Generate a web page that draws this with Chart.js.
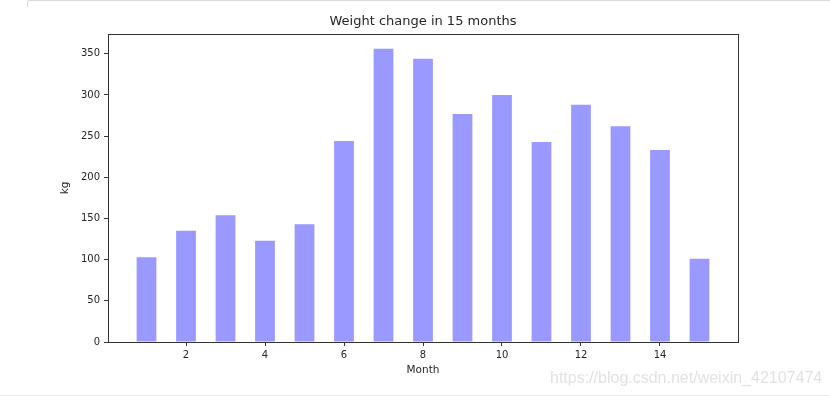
<!DOCTYPE html>
<html>
<head>
<meta charset="utf-8">
<title>Weight change in 15 months</title>
<script src="https://cdn.jsdelivr.net/npm/chart.js@4.4.1/dist/chart.umd.min.js"></script>
<style>
    html, body { margin: 0; padding: 0; background: #fff; overflow: hidden; }
    .page { position: relative; width: 830px; height: 397px; }
    .frame-top { position: absolute; left: 27px; top: 0; width: 820px; height: 6px;
        border-top: 1px solid #d9d9d9; border-left: 1px solid #d9d9d9; border-top-left-radius: 3px; }
    .frame-bottom { position: absolute; left: 0; top: 395px; width: 830px; border-top: 1px solid #ececec; }
    .chart-box { position: absolute; left: 0; top: 0; width: 830px; height: 397px; }
    .watermark { position: absolute; left: 550px; top: 369px; font-family: 'Liberation Sans', Arial, sans-serif;
        font-size: 16px; color: #e2e2e2; white-space: nowrap; }
</style>
</head>
<body>
<div class="page">
    <div class="frame-top"></div>
    <div class="frame-bottom"></div>
    <div class="chart-box"><canvas id="weightChart"></canvas></div>
    <div class="watermark">https://blog.csdn.net/weixin_42107474</div>
</div>
<script>
// ===== DATA =====
const months = [1, 2, 3, 4, 5, 6, 7, 8, 9, 10, 11, 12, 13, 14, 15];
const weights = [103, 135, 154, 123, 143, 244, 356, 344, 277, 300, 243, 288, 262, 233, 101];
const xTicks = [2, 4, 6, 8, 10, 12, 14];
const yTicks = [0, 50, 100, 150, 200, 250, 300, 350];

Chart.defaults.font.family = "'DejaVu Sans', sans-serif";
Chart.defaults.font.size = 10;
Chart.defaults.color = '#262626';

// box around the plot area + title centred on it (matplotlib style)
const axesFrame = {
    id: 'axesFrame',
    afterDraw(chart) {
        const { ctx, chartArea: a } = chart;
        ctx.save();
        ctx.strokeStyle = '#333';
        ctx.lineWidth = 1;
        ctx.strokeRect(Math.round(a.left) + 0.5, Math.round(a.top) + 0.5,
            Math.round(a.right - a.left), Math.round(a.bottom - a.top));
        ctx.fillStyle = '#262626';
        ctx.font = "13px 'DejaVu Sans', sans-serif";
        ctx.textAlign = 'center';
        ctx.textBaseline = 'alphabetic';
        ctx.fillText('Weight change in 15 months', (a.left + a.right) / 2, a.top - 9.5);
        ctx.restore();
    }
};

function initWeightChart() {
    const ctx = document.getElementById('weightChart');
    if (!ctx || typeof Chart === 'undefined') return;

    new Chart(ctx, {
        type: 'bar',
        data: {
            datasets: [{
                label: 'Weight',
                data: months.map((m, i) => ({ x: m, y: weights[i] })),
                backgroundColor: '#9999ff',
                borderWidth: 0,
                categoryPercentage: 0.5,
                barPercentage: 1.0
            }]
        },
        options: {
            responsive: true,
            maintainAspectRatio: false,
            animation: false,
            layout: {
                padding: { left: 54.5, right: 92, top: 34, bottom: 16.4 }
            },
            plugins: {
                legend: { display: false },
                tooltip: { enabled: false }
            },
            scales: {
                x: {
                    type: 'linear',
                    min: 0.025,
                    max: 15.975,
                    offset: false,
                    afterBuildTicks: (scale) => { scale.ticks = xTicks.map(v => ({ value: v })); },
                    afterFit: (scale) => { scale.height = 38.6; },
                    grid: {
                        display: true,
                        offset: false,
                        drawOnChartArea: false,
                        drawTicks: true,
                        tickLength: 4,
                        tickColor: '#333'
                    },
                    border: { display: false },
                    ticks: { padding: 3, maxRotation: 0, autoSkip: false },
                    title: {
                        display: true,
                        text: 'Month',
                        font: { size: 10.5 },
                        padding: { top: 4, bottom: 4 }
                    }
                },
                y: {
                    min: 0,
                    max: 374,
                    afterBuildTicks: (scale) => { scale.ticks = yTicks.map(v => ({ value: v })); },
                    afterFit: (scale) => { scale.width = 53.5; },
                    grid: {
                        display: true,
                        drawOnChartArea: false,
                        drawTicks: true,
                        tickLength: 4,
                        tickColor: '#333'
                    },
                    border: { display: false },
                    ticks: { padding: 4, autoSkip: false },
                    title: {
                        display: true,
                        text: 'kg',
                        font: { size: 10.5 },
                        padding: { top: 4, bottom: 4 }
                    }
                }
            }
        },
        plugins: [axesFrame]
    });
}

document.addEventListener('DOMContentLoaded', initWeightChart);
</script>
</body>
</html>
